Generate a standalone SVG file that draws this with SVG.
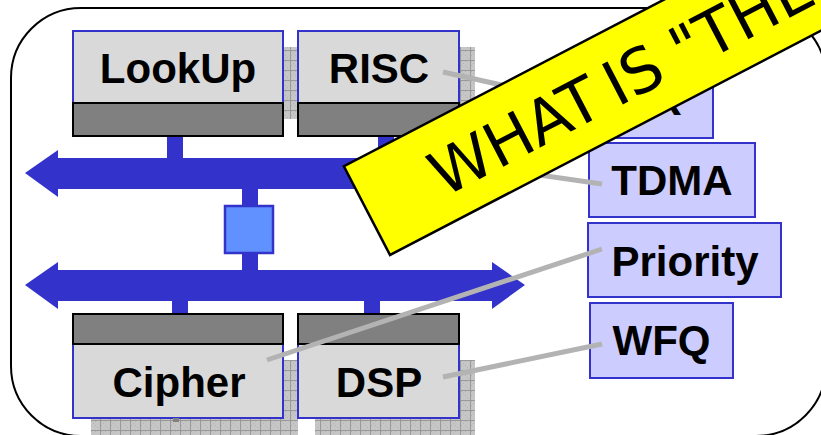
<svg xmlns="http://www.w3.org/2000/svg" width="821" height="435" viewBox="0 0 821 435">
  <style>
    .unit { fill: #d9d9d9; stroke: #3333cc; stroke-width: 2; }
    .port { fill: #808080; stroke: #000; stroke-width: 2; }
    .shadow { fill: url(#grid); }
    .bus { fill: #3333cc; }
    .label { fill: #ccccff; stroke: #3333cc; stroke-width: 2; }
    .name { font-family: "Liberation Sans", Arial, sans-serif; font-weight: bold; font-size: 42px; fill: #000; text-anchor: middle; }
    .link { stroke: #b3b3b3; stroke-width: 5; fill: none; }
  </style>
  <defs>
    <pattern id="grid" width="10" height="10" patternUnits="userSpaceOnUse">
      <rect width="10" height="10" fill="#c6c6c6"/>
      <rect x="1" y="1" width="1" height="1" fill="#b4b4b4"/>
      <rect x="3" y="3" width="1" height="1" fill="#b4b4b4"/>
      <rect x="5" y="5" width="1" height="1" fill="#b4b4b4"/>
      <rect x="7" y="7" width="1" height="1" fill="#b4b4b4"/>
      <rect x="5" y="1" width="1" height="1" fill="#b4b4b4"/>
      <rect x="1" y="5" width="1" height="1" fill="#b4b4b4"/>
      <path d="M0 0.5H10M0.5 0V10" stroke="#999" stroke-width="1"/>
    </pattern>
  </defs>

  <!-- outer frame -->
  <rect id="frame" x="11" y="8" width="815" height="428" rx="70" ry="70" fill="#fff" stroke="#000" stroke-width="2"/>

  <!-- drop shadows of the processing units -->
  <g id="shadows">
    <rect class="shadow" x="88" y="47" width="210" height="72"/>
    <rect class="shadow" x="313" y="47" width="162" height="72"/>
    <rect class="shadow" x="91" y="360" width="207" height="80"/>
    <rect class="shadow" x="315" y="360" width="160" height="80"/>
  </g>

  <!-- buses with their taps -->
  <g id="bus-top">
    <polygon class="bus" points="25,173 58,150 58,158 492,158 492,150 525,173 492,197 492,189 58,189 58,197"/>
    <rect class="bus" x="167" y="135" width="16" height="24"/>
    <rect class="bus" x="378" y="135" width="16" height="24"/>
    <rect class="bus" x="242" y="188" width="16" height="18"/>
  </g>
  <g id="bus-bottom">
    <polygon class="bus" points="25,285 58,262 58,270 492,270 492,262 525,285 492,309 492,301 58,301 58,309"/>
    <rect class="bus" x="242" y="253" width="16" height="18"/>
    <rect class="bus" x="172" y="300" width="16" height="15"/>
    <rect class="bus" x="364" y="300" width="16" height="15"/>
  </g>

  <!-- bridge between the two buses -->
  <g id="bridge">
    <rect x="225" y="206" width="48" height="47" fill="#6190ff" stroke="#3333cc" stroke-width="2.5"/>
  </g>

  <!-- processing units -->
  <g id="lookup">
    <rect class="unit" x="73" y="31" width="210" height="72"/>
    <rect class="port" x="73" y="103" width="210" height="33"/>
    <text class="name" x="178" y="83">LookUp</text>
  </g>
  <g id="risc">
    <rect class="unit" x="298" y="31" width="161" height="72"/>
    <rect class="port" x="298" y="103" width="161" height="33"/>
    <text class="name" x="379" y="83">RISC</text>
  </g>
  <g id="cipher">
    <rect class="unit" x="73" y="344" width="210" height="74"/>
    <rect class="port" x="73" y="314" width="210" height="30"/>
    <rect x="173" y="418" width="6" height="4" fill="#808080"/>
    <text class="name" x="179" y="397">Cipher</text>
  </g>
  <g id="dsp">
    <rect class="unit" x="298" y="344" width="161" height="74"/>
    <rect class="port" x="298" y="314" width="161" height="30"/>
    <text class="name" x="379" y="397">DSP</text>
  </g>

  <!-- scheduling policies -->
  <g id="rr">
    <rect class="label" x="590" y="64" width="123" height="74"/>
    <text class="name" x="651.5" y="115">RR</text>
  </g>
  <g id="tdma">
    <rect class="label" x="589" y="143" width="166" height="74"/>
    <text class="name" x="672" y="195">TDMA</text>
  </g>
  <g id="priority">
    <rect class="label" x="588" y="223" width="193" height="74"/>
    <text class="name" x="685" y="276">Priority</text>
  </g>
  <g id="wfq">
    <rect class="label" x="590" y="303" width="143" height="75"/>
    <text class="name" x="661.5" y="355">WFQ</text>
  </g>

  <!-- connectors from units to policies -->
  <g id="connectors">
    <line class="link" x1="443" y1="72" x2="600" y2="107"/>
    <line class="link" x1="602" y1="184" x2="470" y2="165"/>
    <line class="link" x1="602" y1="249" x2="267" y2="360"/>
    <line class="link" x1="602" y1="344" x2="443" y2="377"/>
  </g>

  <!-- diagonal banner -->
  <g id="banner" transform="translate(390,255) rotate(-27.5)">
    <rect x="0" y="-100" width="640" height="100" fill="#ffff00" stroke="#000" stroke-width="2.5"/>
    <text y="-26" font-family="'DejaVu Sans', Verdana, sans-serif" font-size="62" fill="#000"><tspan x="74">WHAT</tspan><tspan x="270">IS</tspan><tspan x="345">"THE"</tspan></text>
  </g>
</svg>
